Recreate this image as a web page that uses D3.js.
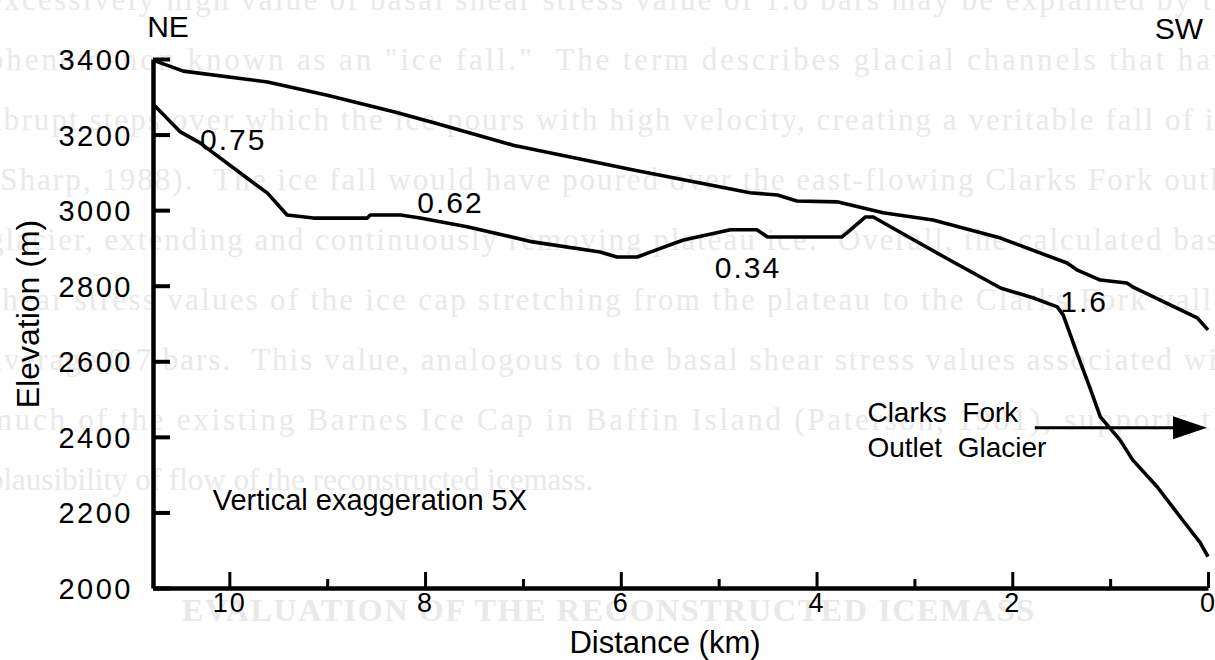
<!DOCTYPE html>
<html>
<head>
    <meta charset="utf-8">
    <title>Ice cap profile, NE to SW</title>
    <script src="https://d3js.org/d3.v7.min.js"></script>
    <style>
        body { margin: 0; background: #fff; }
        svg { display: block; }
        .lbl { font-family: "Liberation Sans", Arial, Helvetica, sans-serif; fill: #000; }
        .bleed { font-family: "Liberation Serif", "Times New Roman", serif; fill: #e9e9e9; font-size: 31px; }
    </style>
</head>
<body>
<svg id="chart"></svg>
<script>
    // distance from the SW end (km) and elevation (m)
    const surfaceKm = [10.78, 10.47, 9.61, 9.01, 8.31, 7.91, 7.10, 5.87, 4.68, 4.40, 4.20, 3.79, 3.32, 2.81, 2.12, 1.44, 1.34, 1.10, 0.83, 0.77, 0.11, 0];
    const surfaceElev = [3397, 3368, 3339, 3305, 3260, 3231, 3172, 3106, 3046, 3040, 3024, 3022, 2993, 2974, 2926, 2860, 2842, 2815, 2807, 2797, 2715, 2683];

    const bedKm = [10.77, 10.67, 10.50, 10.30, 9.82, 9.61, 9.41, 9.14, 8.59, 8.56, 8.25, 8.05, 7.57, 6.90, 6.21, 6.04, 5.83, 5.70, 5.36, 5.02, 4.88, 4.61, 4.50, 3.74, 3.68, 3.50, 3.42, 3.15, 2.64, 2.12, 1.79, 1.54, 1.48, 1.34, 1.21, 1.10, 0.90, 0.77, 0.52, 0.26, 0.08, 0];
    const bedElev = [3278, 3252, 3207, 3178, 3085, 3045, 2987, 2979, 2979, 2987, 2987, 2979, 2956, 2916, 2889, 2876, 2876, 2889, 2921, 2940, 2948, 2948, 2929, 2929, 2942, 2982, 2982, 2942, 2868, 2794, 2768, 2744, 2723, 2622, 2532, 2453, 2392, 2339, 2268, 2180, 2120, 2083];

    const elevTicks = [2000, 2200, 2400, 2600, 2800, 3000, 3200, 3400];
    const kmTicks = [10, 8, 6, 4, 2, 0];
    const kmMinorTicks = [9, 7, 5, 3, 1];

    // basal shear stress (bars) written along the bed
    const stressLabels = ["0.75", "0.62", "0.34", "1.6"];
    const stressKm = [10.30, 8.08, 5.04, 1.51];
    const stressElev = [3159, 2993, 2821, 2731];

    // text showing through from the back of the page
    const bleedLines = [
        "excessively high value of basal shear stress value of 1.6 bars may be explained by the",
        "phenomenon known as an \"ice fall.\"  The term describes glacial channels that have",
        "abrupt steps over which the ice pours with high velocity, creating a veritable fall of ice",
        "(Sharp, 1988).  The ice fall would have poured over the east-flowing Clarks Fork outlet",
        "glacier, extending and continuously removing plateau ice.  Overall, the calculated basal",
        "shear stress values of the ice cap stretching from the plateau to the Clarks Fork valley",
        "average 0.7 bars.  This value, analogous to the basal shear stress values associated with",
        "much of the existing Barnes Ice Cap in Baffin Island (Paterson, 1981), supports the",
        "plausibility of flow of the reconstructed icemass."
    ];
    const bleedHeading = "EVALUATION OF THE RECONSTRUCTED ICEMASS";

    const svgWidth = 1215;
    const svgHeight = 660;
    const margin = { top: 59, right: 7, bottom: 72, left: 153 };
    const width = svgWidth - margin.left - margin.right;
    const height = svgHeight - margin.top - margin.bottom;

    const root = d3.select("#chart")
        .attr("width", svgWidth)
        .attr("height", svgHeight);

    root.append("rect")
        .attr("width", svgWidth)
        .attr("height", svgHeight)
        .attr("fill", "#fff");

    // faint bleed-through text behind the figure
    const bleed = root.append("g");
    bleed.selectAll("text.line")
        .data(bleedLines)
        .join("text")
        .attr("class", "bleed line")
        .attr("x", -12)
        .attr("y", (d, i) => 10 + i * 60)
        .attr("textLength", (d, i) => i < bleedLines.length - 1 ? 1257 : null)
        .attr("lengthAdjust", "spacing")
        .style("white-space", "pre")
        .text(d => d);
    bleed.append("text")
        .attr("class", "bleed")
        .attr("x", 608)
        .attr("y", 621)
        .attr("text-anchor", "middle")
        .style("font-weight", "bold")
        .style("font-size", "32px")
        .attr("textLength", 852)
        .attr("lengthAdjust", "spacing")
        .text(bleedHeading);

    const svg = root.append("g")
        .attr("transform", `translate(${margin.left}, ${margin.top})`);

    const x = d3.scaleLinear().domain([10.78, 0]).range([0, width]);
    const y = d3.scaleLinear().domain([2000, 3400]).range([height, 0]);

    // axes
    const yAxis = svg.append("g")
        .call(d3.axisLeft(y)
            .tickValues(elevTicks)
            .tickSizeInner(-17)
            .tickSizeOuter(0)
            .tickPadding(20)
            .tickFormat(d3.format("d")));
    yAxis.select(".domain").attr("stroke-width", 4.5);
    yAxis.selectAll(".tick line").attr("stroke-width", 4);
    yAxis.selectAll(".tick text")
        .attr("class", "lbl")
        .attr("dy", "0.36em")
        .style("font-size", "29px")
        .style("letter-spacing", "2.5px");

    const xAxis = svg.append("g")
        .attr("transform", `translate(0, ${height})`)
        .call(d3.axisBottom(x)
            .tickValues(kmTicks)
            .tickSizeInner(-16)
            .tickSizeOuter(0)
            .tickPadding(5)
            .tickFormat(d3.format("d")));
    xAxis.select(".domain").attr("stroke-width", 4.5);
    xAxis.selectAll(".tick line").attr("stroke-width", 3);
    xAxis.selectAll(".tick text")
        .attr("class", "lbl")
        .style("font-size", "27px")
        .style("letter-spacing", "2px");

    const xMinor = svg.append("g")
        .attr("transform", `translate(0, ${height})`)
        .call(d3.axisBottom(x)
            .tickValues(kmMinorTicks)
            .tickSize(-9)
            .tickFormat(""));
    xMinor.select(".domain").remove();
    xMinor.selectAll(".tick line").attr("stroke-width", 3);

    // profile lines
    const line = d3.line()
        .x(d => x(d[0]))
        .y(d => y(d[1]));

    svg.append("path")
        .datum(d3.zip(surfaceKm, surfaceElev))
        .attr("fill", "none")
        .attr("stroke", "#000")
        .attr("stroke-width", 3.6)
        .attr("stroke-linejoin", "round")
        .attr("d", line);

    svg.append("path")
        .datum(d3.zip(bedKm, bedElev))
        .attr("fill", "none")
        .attr("stroke", "#000")
        .attr("stroke-width", 3.6)
        .attr("stroke-linejoin", "round")
        .attr("d", line);

    // stress values
    svg.selectAll("text.stress")
        .data(stressLabels)
        .join("text")
        .attr("class", "lbl stress")
        .attr("x", (d, i) => x(stressKm[i]))
        .attr("y", (d, i) => y(stressElev[i]))
        .style("font-size", "30px")
        .style("letter-spacing", "2px")
        .text(d => d);

    // direction labels
    svg.append("text")
        .attr("class", "lbl")
        .attr("x", x(10.84))
        .attr("y", y(3458))
        .style("font-size", "30px")
        .text("NE");
    svg.append("text")
        .attr("class", "lbl")
        .attr("x", x(0.05))
        .attr("y", y(3453))
        .attr("text-anchor", "end")
        .style("font-size", "30px")
        .text("SW");

    svg.append("text")
        .attr("class", "lbl")
        .attr("x", x(10.17))
        .attr("y", y(2206))
        .style("font-size", "29px")
        .text("Vertical exaggeration 5X");

    svg.append("text")
        .attr("class", "lbl")
        .attr("x", x(3.48))
        .attr("y", y(2440))
        .style("font-size", "28px")
        .style("white-space", "pre")
        .text("Clarks  Fork");
    svg.append("text")
        .attr("class", "lbl")
        .attr("x", x(3.48))
        .attr("y", y(2347))
        .style("font-size", "28px")
        .style("white-space", "pre")
        .text("Outlet  Glacier");

    // arrow to the outlet glacier
    const arrowY = y(2424);
    const tipX = x(0.01);
    svg.append("line")
        .attr("x1", x(1.77))
        .attr("x2", tipX - 30)
        .attr("y1", arrowY)
        .attr("y2", arrowY)
        .attr("stroke", "#000")
        .attr("stroke-width", 3);
    svg.append("path")
        .attr("d", `M${tipX},${arrowY} L${tipX - 34},${arrowY - 11.5} L${tipX - 34},${arrowY + 11.5} Z`)
        .attr("fill", "#000");

    // axis titles
    root.append("text")
        .attr("class", "lbl")
        .attr("transform", "rotate(-90)")
        .attr("x", -314)
        .attr("y", 39)
        .attr("text-anchor", "middle")
        .style("font-size", "32px")
        .text("Elevation (m)");

    root.append("text")
        .attr("class", "lbl")
        .attr("x", 665)
        .attr("y", 653)
        .attr("text-anchor", "middle")
        .style("font-size", "31px")
        .text("Distance (km)");
</script>
</body>
</html>
